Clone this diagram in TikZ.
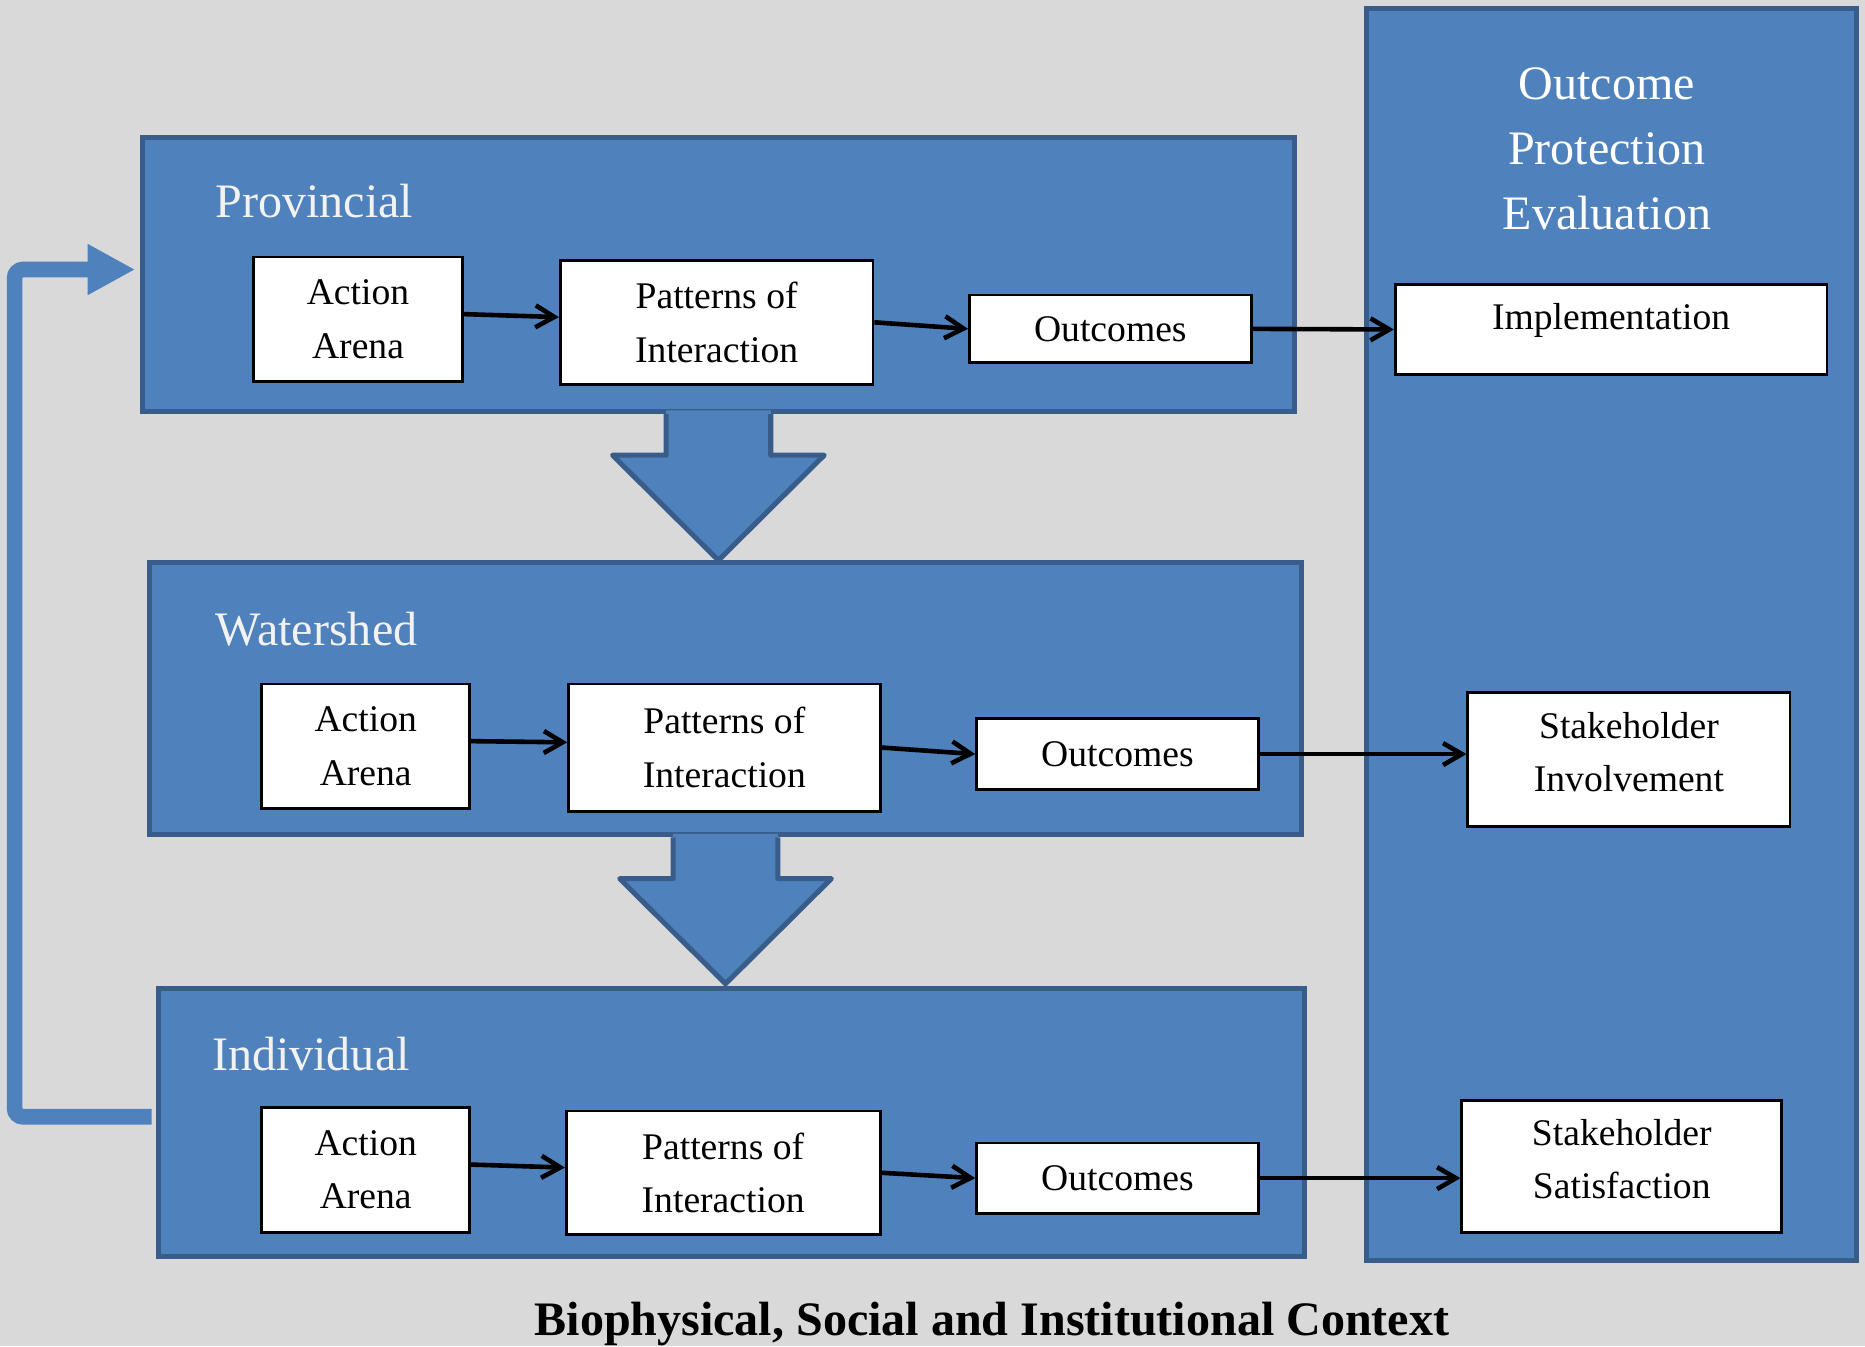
\documentclass[tikz,border=0pt]{standalone}
\usepackage{fontspec}
\setmainfont{Liberation Serif}
\usetikzlibrary{arrows.meta,fit}
\definecolor{panelblue}{RGB}{79,129,189}
\definecolor{paneledge}{RGB}{56,93,138}
\definecolor{backgrey}{RGB}{217,217,217}
\definecolor{titlewhite}{RGB}{242,242,242}

\tikzset{
  panel/.style={draw=paneledge, fill=panelblue, line width=2.4pt, inner sep=0pt},
  stage/.style={draw=black, fill=white, line width=1.3pt, inner sep=0pt, align=center,
    font=\fontsize{18}{25.6}\selectfont},
  level/.style={anchor=base west, text=titlewhite, inner sep=0pt,
    font=\fontsize{23}{28}\selectfont},
  flow/.style={-{Straight Barb[length=9pt,width=10.5pt]}, line width=2.2pt},
  feedback/.style={draw=panelblue, line width=7.5pt, rounded corners=4pt,
    -{Triangle[length=22.8pt,width=22.8pt]}},
  blockarrow/.style={draw=paneledge, line width=2.4pt, line join=round},
}

\begin{document}
\begin{tikzpicture}[x=0.02cm, y=-0.02cm]
  \fill[backgrey] (0,0) rectangle (1568,1132);
  \useasboundingbox (0,0) rectangle (1568,1132);

  %% the three levels and the evaluation column
  \node[panel, fit={(120,116) (1088,346)}] (prov) {};
  \node[panel, fit={(126,473) (1094,702)}] (ws) {};
  \node[panel, fit={(133,831) (1097,1056)}] (ind) {};
  \node[panel, fit={(1149,7) (1561,1060)}] (eval) {};

  \node[level] (provtitle) at (181,182.7) {Provincial};
  \node[level] (wstitle) at (181,542.3) {Watershed};
  \node[level] (indtitle) at (178,900) {Individual};
  \node[align=center, text=white, inner sep=0pt,
        font=\fontsize{23}{31.1}\selectfont] (evaltitle) at (1351,125)
    {Outcome\\Protection\\Evaluation};

  %% block arrows down between levels
  \foreach \a in {prov, ws} {
    \fill[panelblue] (\a.south) ++(-44,-3) -- ++(0,37.6) -- ++(-45,0) -- ++(89,88.4)
      -- ++(89,-88.4) -- ++(-45,0) -- ++(0,-37.6) -- cycle;
    \draw[blockarrow] (\a.south) ++(-44,0) -- ++(0,34.6) -- ++(-45,0) -- ++(89,88.4)
      -- ++(89,-88.4) -- ++(-45,0) -- ++(0,-34.6);
  }

  %% stages of each level
  \node[stage, minimum width=3.52cm, minimum height=2.1cm] (aa1) at (301,268.5) {Action\\Arena};
  \node[stage, minimum width=5.26cm, minimum height=2.08cm] (pi1) at (602.5,271) {Patterns of\\Interaction};
  \node[stage, minimum width=4.74cm, minimum height=1.14cm] (oc1) at (933.5,276.5) {Outcomes};

  \node[stage, minimum width=3.5cm, minimum height=2.1cm] (aa2) at (307.5,627.5) {Action\\Arena};
  \node[stage, minimum width=5.24cm, minimum height=2.14cm] (pi2) at (609,628.5) {Patterns of\\Interaction};
  \node[stage, minimum width=4.74cm, minimum height=1.2cm] (oc2) at (939.5,634) {Outcomes};

  \node[stage, minimum width=3.5cm, minimum height=2.1cm] (aa3) at (307.5,983.5) {Action\\Arena};
  \node[stage, minimum width=5.28cm, minimum height=2.08cm] (pi3) at (608,986) {Patterns of\\Interaction};
  \node[stage, minimum width=4.74cm, minimum height=1.18cm] (oc3) at (939.5,990.5) {Outcomes};

  \node[stage, minimum width=7.26cm, minimum height=1.52cm, text height=12pt, text depth=11.5pt]
    (impl) at (1354.5,277) {Implementation};
  \node[stage, minimum width=5.42cm, minimum height=2.26cm, text depth=7pt]
    (sinv) at (1369.5,638.5) {Stakeholder\\Involvement};
  \node[stage, minimum width=5.38cm, minimum height=2.22cm, text depth=7pt]
    (ssat) at (1363.5,980.5) {Stakeholder\\Satisfaction};

  %% connectors
  \foreach \i in {1,2,3} {
    \draw[flow] ([yshift=2.5pt]aa\i.east) -- ([yshift=2.5pt]pi\i.west);
    \draw[flow] (pi\i.east) -- (oc\i.west);
  }
  \draw[flow] (oc1.east) -- (impl.west);
  \draw[flow] (oc2.east) -- (oc2.east -| sinv.west);
  \draw[flow] (oc3.east) -- (oc3.east -| ssat.west);

  %% feedback from individual back to provincial
  \draw[feedback, shorten <=2pt, shorten >=2.4pt]
    ([yshift=2.6pt]ind.west) -- ++(-118.6,0) |- ([yshift=2.5pt]prov.west);

  \node[font=\bfseries\fontsize{23}{28}\selectfont, anchor=base, inner sep=0pt]
    (context) at (834,1123) {Biophysical, Social and Institutional Context};
\end{tikzpicture}
\end{document}
